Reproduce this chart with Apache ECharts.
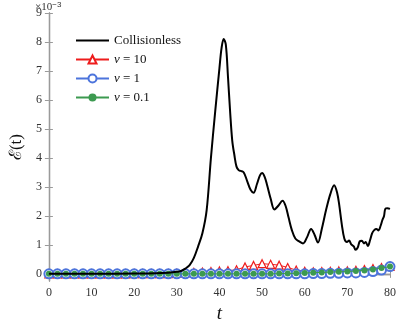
<!DOCTYPE html>
<html>
<head>
<meta charset="utf-8">
<script src="https://cdn.jsdelivr.net/npm/echarts@6/dist/echarts.min.js"></script>
<style>
  html, body { margin: 0; padding: 0; background: #fff; }
  #main { width: 399px; height: 328px; }
</style>
</head>
<body>
<div id="main"></div>
<script>
// 数据（单位 1e-3）
const collT = [0, 10, 20, 25, 28, 30, 31, 32, 33, 34, 35, 36, 37, 38, 39, 40, 40.5, 41, 41.5, 42, 42.5, 43, 43.5, 44, 44.5, 45,
  45.7, 46.5, 47.3, 48, 48.8, 49.5, 50, 50.6, 51.2, 52, 52.9, 53.8, 54.8, 55.5, 56.2, 57, 57.8, 58.7, 59.6, 60.5, 61.5,
  62.3, 63.1, 64, 65, 66, 66.9, 67.6, 68.1, 68.7, 69.3, 69.9, 70.4, 70.9, 71.5, 71.9, 72.4, 72.9, 73.4, 73.9, 74.3, 74.8,
  75.3, 75.8, 76.3, 76.8, 77.3, 77.8, 78.2, 78.6, 78.9, 79.4, 80];
const collE = [0, 0, 0.01, 0.02, 0.04, 0.07, 0.1, 0.18, 0.3, 0.55, 0.95, 1.4, 2.2, 4.0, 5.6, 7.1, 7.8, 8.1, 7.9, 6.8, 5.6, 4.6, 4.1, 3.7, 3.58, 3.55,
  3.5, 3.2, 2.9, 2.8, 3.1, 3.4, 3.48, 3.35, 3.05, 2.6, 2.22, 2.35, 2.52, 2.35, 1.95, 1.5, 1.22, 1.12, 1.05, 1.25, 1.55,
  1.35, 1.08, 1.55, 2.2, 2.75, 3.06, 2.8, 2.37, 1.7, 1.21, 1.1, 1.15, 1.02, 0.95, 0.83, 0.9, 1.12, 1.14, 1.05, 1.1, 0.96,
  1.15, 1.4, 1.51, 1.55, 1.5, 1.66, 1.85, 2.0, 2.24, 2.26, 2.24];

// ν 曲线：t = 0, 2, ..., 80
const nuT = [0, 2, 4, 6, 8, 10, 12, 14, 16, 18, 20, 22, 24, 26, 28, 30, 32, 34, 36, 38, 40,
  42, 44, 46, 48, 50, 52, 54, 56, 58, 60, 62, 64, 66, 68, 70, 72, 74, 76, 78, 80];
const nu10 = [0, 0, 0, 0, 0, 0, 0, 0, 0, 0, 0.01, 0.01, 0.01, 0.01, 0.01, 0.02, 0.03, 0.05, 0.06, 0.08, 0.1,
  0.11, 0.14, 0.24, 0.29, 0.35, 0.33, 0.3, 0.22, 0.13, 0.09, 0.07, 0.08, 0.09, 0.1, 0.1, 0.12, 0.15, 0.18, 0.22, 0.26];
const nu1 = [0, 0, 0, 0, 0, 0, 0, 0, 0, 0, 0, 0, 0, 0, 0, 0, 0, 0, 0, 0, 0,
  0, 0, 0, 0, 0, 0, 0, 0, 0, 0, 0.01, 0.01, 0.02, 0.02, 0.03, 0.03, 0.05, 0.08, 0.13, 0.25];
const nu01 = [0, 0, 0, 0, 0, 0, 0, 0, 0, 0, 0, 0, 0, 0, 0, 0, 0, 0, 0, 0, 0,
  0, 0, 0, 0, 0, 0, 0.01, 0.01, 0.02, 0.03, 0.04, 0.05, 0.06, 0.07, 0.08, 0.1, 0.12, 0.15, 0.2, 0.25];

const yTicks = [0, 1, 2, 3, 4, 5, 6, 7, 8, 9];

const serif = "'Liberation Serif', 'DejaVu Serif', serif";
const axisGray = '#9a9a9a';
const cRed = '#ee1c1c';
const cBlue = '#4c74dc';
const cGreen = '#3c9a50';

function pairs(xs, ys) {
  return xs.map((x, i) => [x, ys[i]]);
}

const axisCommon = {
  axisLine: { show: true, lineStyle: { color: axisGray, width: 1.3 } },
  axisTick: { show: true, inside: true, length: 4, lineStyle: { color: axisGray } },
  splitLine: { show: false }
};
const yTick = { show: true, inside: true, length: 4, lineStyle: { color: axisGray }, customValues: yTicks };

let chart = echarts.init(document.getElementById('main'), null, { renderer: 'canvas' });

let option = {
  animation: false,
  backgroundColor: '#fff',
  grid: { left: 34, right: 6, top: 13, bottom: 36 },
  legend: {
    orient: 'vertical',
    left: 70,
    top: 29,
    itemWidth: 33,
    itemHeight: 10,
    itemGap: 6,
    textStyle: {
      fontFamily: serif, fontSize: 13, color: '#111',
      rich: { i: { fontFamily: serif, fontSize: 13, fontStyle: 'italic', color: '#111' } }
    },
    formatter: function (name) {
      if (name.indexOf('ν') === 0) return '{i|ν}' + name.slice(1);
      return name;
    },
    data: [
      { name: 'Collisionless', itemStyle: { opacity: 0 } },
      'ν = 10', 'ν = 1', 'ν = 0.1'
    ]
  },
  xAxis: [{
    type: 'value', min: 0, max: 80, interval: 10,
    name: 't', nameLocation: 'middle', nameGap: 22,
    nameTextStyle: { fontFamily: serif, fontSize: 19, fontStyle: 'italic', color: '#111' },
    axisLabel: { fontFamily: serif, fontSize: 12, color: '#333', margin: 6 },
    ...axisCommon
  }, {
    type: 'value', min: 0, max: 80, interval: 10, position: 'top',
    axisLabel: { show: false },
    ...axisCommon
  }],
  yAxis: [{
    type: 'value', min: -0.25, max: 9,
    name: 'ℰ(t)', nameLocation: 'middle', nameGap: 19, nameRotate: 90,
    nameTextStyle: { fontFamily: serif, fontSize: 17, color: '#111' },
    axisLabel: { fontFamily: serif, fontSize: 12, color: '#333', margin: 7, customValues: yTicks },
    ...axisCommon,
    axisTick: yTick
  }, {
    type: 'value', min: -0.25, max: 9, position: 'right',
    axisLabel: { show: false },
    ...axisCommon,
    axisTick: yTick
  }],
  graphic: [{
    type: 'text', left: 35, top: 1,
    style: {
      text: '×10{s|−3}',
      font: '11px ' + serif,
      fill: '#333',
      rich: { s: { fontSize: 8, verticalAlign: 'top', padding: [0, 0, 5, 0], fill: '#333' } }
    }
  }],
  series: [{
    name: 'Collisionless', type: 'line', z: 5,
    data: pairs(collT, collE),
    showSymbol: false, symbol: 'none', smooth: 0.35,
    lineStyle: { color: '#000', width: 2 },
    itemStyle: { color: '#000' }
  }, {
    name: 'ν = 10', type: 'line', z: 2,
    data: pairs(nuT, nu10),
    symbol: 'triangle', symbolSize: 8,
    lineStyle: { color: cRed, width: 1 },
    itemStyle: { color: '#fff', borderColor: cRed, borderWidth: 1.2 }
  }, {
    name: 'ν = 1', type: 'line', z: 3,
    data: pairs(nuT, nu1),
    symbol: 'emptyCircle', symbolSize: 9,
    lineStyle: { color: cBlue, width: 1 },
    itemStyle: { color: cBlue, borderColor: cBlue, borderWidth: 1.2 }
  }, {
    name: 'ν = 0.1', type: 'line', z: 4,
    data: pairs(nuT, nu01),
    symbol: 'circle', symbolSize: 6,
    lineStyle: { color: cGreen, width: 1 },
    itemStyle: { color: cGreen }
  }]
};

chart.setOption(option);
</script>
</body>
</html>
